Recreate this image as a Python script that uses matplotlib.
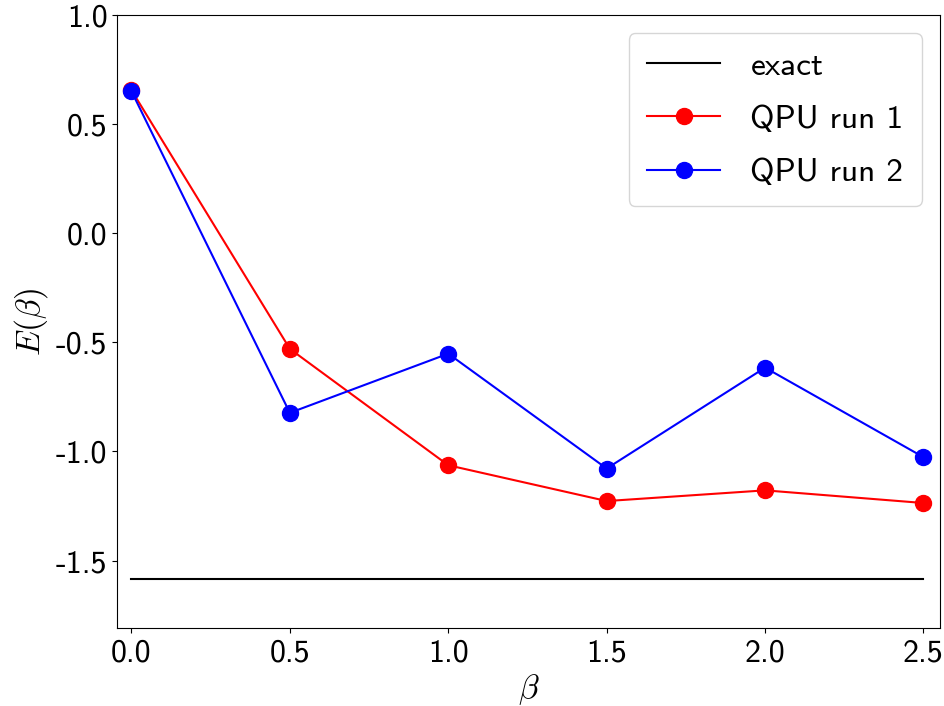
import numpy as np
import matplotlib.pyplot as plt
from matplotlib.ticker import FuncFormatter

plt.rcParams['mathtext.fontset'] = 'cm'

beta = [0.0, 0.5, 1.0, 1.5, 2.0, 2.5]
e_exact = -1.585
e_run1 = [0.655, -0.53, -1.063, -1.227, -1.178, -1.236]
e_run2 = [0.650, -0.823, -0.552, -1.078, -0.616, -1.026]

fig = plt.figure(figsize=(9.45, 7.06), dpi=100)
ax = fig.add_axes([0.124, 0.110, 0.871, 0.869])

ax.plot([beta[0], beta[-1]], [e_exact, e_exact], color='black', lw=1.5, label='exact')
ax.plot(beta, e_run1, 'o-', color='red', lw=1.5, ms=11.5, label='QPU run 1')
ax.plot(beta, e_run2, 'o-', color='blue', lw=1.5, ms=11.5, label='QPU run 2')

ax.set_xlim(-0.045, 2.553)
ax.set_ylim(-1.81, 1.0)
ax.set_xticks(beta)
ax.set_yticks([-1.5, -1.0, -0.5, 0.0, 0.5, 1.0])
ax.xaxis.set_major_formatter(FuncFormatter(lambda v, p: f"{v:.1f}"))
ax.yaxis.set_major_formatter(FuncFormatter(lambda v, p: f"{v:.1f}"))
for lab in ax.get_xticklabels() + ax.get_yticklabels():
    lab.set_fontfamily('cmss10')
    lab.set_fontsize(23)

ax.set_xlabel(r'$\beta$', fontsize=24)
ax.set_ylabel(r'$E(\beta)$', fontsize=24)

leg = ax.legend(loc='upper right', prop={'family': 'cmss10', 'size': 24},
                handlelength=2.2, handletextpad=0.9, borderpad=0.55,
                labelspacing=0.72, borderaxespad=0.55)

fig.savefig('out.png', dpi=100)
